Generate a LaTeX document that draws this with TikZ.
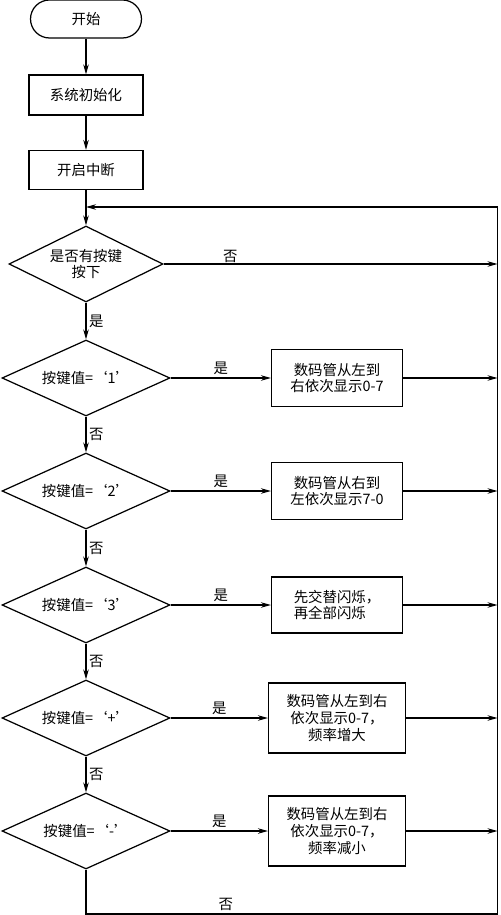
\documentclass[tikz,border=0pt]{standalone}
\usepackage{fontspec}
\newfontfamily\cjk{Noto Sans CJK SC}
\usetikzlibrary{shapes.geometric,arrows.meta}
\begin{document}
\begin{tikzpicture}[x=0.02cm,y=-0.02cm,
    font=\cjk\fontsize{8.2}{9.6}\selectfont,
    box/.style={draw, line width=0.7pt, align=center, inner sep=0pt},
    cond/.style={draw, diamond, aspect=2.2, line width=0.7pt, align=center, inner sep=0pt,
      minimum width=3.36cm, minimum height=1.52cm},
    arr/.style={line width=0.6pt, -{Stealth[length=2mm,width=1.1mm]}},
    lbl/.style={inner sep=1.5pt}]
  \useasboundingbox (0,0) rectangle (500,915) ;
  \node [box, rounded corners=0.38cm, minimum width=2.22cm, minimum height=0.76cm]
    (start) at (86,19) {开始} ;
  \node [box, minimum width=2.28cm, minimum height=0.8cm] (init) at (86,95) {系统初始化} ;
  \node [box, minimum width=2.28cm, minimum height=0.78cm] (irq) at (86,170) {开启中断} ;
  \node [cond, minimum width=3.08cm] (d0) at (86,264) {是否有按键\\按下} ;
  \coordinate (loop) at (86,207) ;
  \coordinate (r0) at (497.5,264) ;
  \coordinate (tr) at (497.5,207) ;
  \coordinate (br) at (497.5,914) ;
  \coordinate (bl) at (86,914) ;
  \draw [arr] (start) -- (init) ;
  \draw [arr] (init) -- (irq) ;
  \draw [arr] (irq) -- (d0) ;
  \draw [arr] (d0.east) -- node [above, pos=0.2, inner sep=0.5pt] {否} (r0) ;
  \foreach \n/\y/\k/\t/\h/\w/\a in {
      1/378/1/{数码管从左到\\右依次显示0-7}/1.14/2.62/center,
      2/491/2/{数码管从右到\\左依次显示7-0}/1.14/2.62/center,
      3/605/3/{先交替闪烁，\\再全部闪烁}/1.12/2.62/left,
      4/718/+/{数码管从左到右\\依次显示0-7，\\频率增大}/1.4/2.74/center,
      5/831/-/{数码管从左到右\\依次显示0-7，\\频率减小}/1.4/2.74/center} {
    \node [cond] (d\n) at (86,\y) {按键值=‘\k’} ;
    \node [box, align=\a, minimum width=\w cm, minimum height=\h cm] (b\n) at (337,\y) {\t} ;
    \coordinate (r\n) at (497.5,\y) ;
    \draw [arr] (d\n.east) -- node [above, lbl] {是} (b\n.west) ;
    \draw [arr] (b\n.east) -- (r\n) ;
  }
  \draw [arr] (d0.south) -- node [right, lbl] {是} (d1.north) ;
  \foreach \n in {2,...,5} {
    \pgfmathtruncatemacro\p{\n-1}
    \draw [arr] (d\p.south) -- node [right, lbl] {否} (d\n.north) ;
  }
  \draw [arr] (d5.south) -- (bl) -- node [above, pos=0.34, lbl] {否} (br)
    -- (tr) -- (loop) ;
\end{tikzpicture}
\end{document}
